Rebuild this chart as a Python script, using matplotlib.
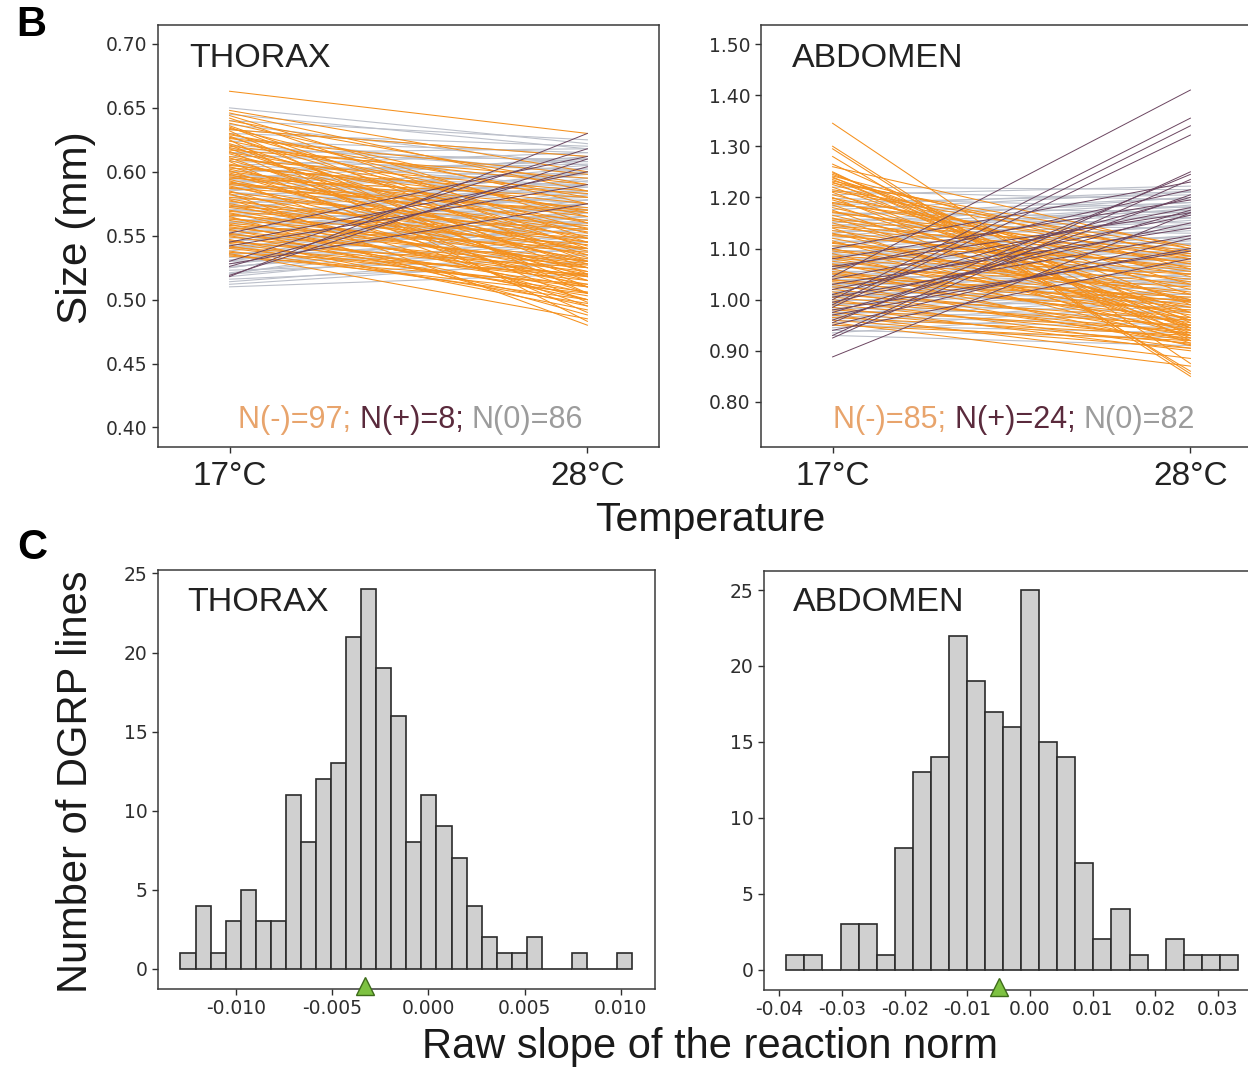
import numpy as np
import matplotlib
matplotlib.use("Agg")
import matplotlib.pyplot as plt

# ---- data -----------------------------------------------------------------
temps = ["17°C", "28°C"]

# thorax reaction norms (size in mm at 17°C and 28°C)
thorax_neg_17 = [0.663, 0.648, 0.646, 0.644, 0.642, 0.640, 0.638, 0.636, 0.635, 0.634,
                 0.632, 0.630, 0.629, 0.628, 0.627, 0.625, 0.624, 0.622, 0.621, 0.620,
                 0.619, 0.618, 0.616, 0.615, 0.614, 0.612, 0.611, 0.610, 0.609, 0.608,
                 0.606, 0.605, 0.604, 0.602, 0.601, 0.600, 0.599, 0.598, 0.596, 0.595,
                 0.594, 0.593, 0.592, 0.590, 0.589, 0.588, 0.587, 0.585, 0.584, 0.583,
                 0.582, 0.580, 0.579, 0.578, 0.577, 0.575, 0.574, 0.573, 0.572, 0.570,
                 0.569, 0.568, 0.567, 0.566, 0.565, 0.564, 0.563, 0.562, 0.560, 0.559,
                 0.558, 0.557, 0.556, 0.555, 0.554, 0.552, 0.551, 0.550, 0.549, 0.547,
                 0.546, 0.545, 0.544, 0.542, 0.541, 0.540, 0.538, 0.537, 0.536, 0.535,
                 0.534, 0.633, 0.626, 0.617, 0.603, 0.597, 0.591]
thorax_neg_28 = [0.630, 0.600, 0.585, 0.560, 0.548, 0.590, 0.575, 0.540, 0.530, 0.565,
                 0.505, 0.555, 0.580, 0.520, 0.545, 0.483, 0.568, 0.535, 0.510, 0.590,
                 0.552, 0.525, 0.498, 0.570, 0.542, 0.560, 0.515, 0.585, 0.533, 0.490,
                 0.556, 0.575, 0.528, 0.548, 0.505, 0.565, 0.538, 0.518, 0.553, 0.580,
                 0.530, 0.495, 0.545, 0.562, 0.522, 0.540, 0.570, 0.510, 0.550, 0.480,
                 0.535, 0.558, 0.525, 0.500, 0.545, 0.532, 0.515, 0.555, 0.540, 0.520,
                 0.548, 0.505, 0.530, 0.543, 0.488, 0.525, 0.537, 0.512, 0.528, 0.500,
                 0.540, 0.518, 0.530, 0.495, 0.522, 0.510, 0.527, 0.503, 0.519, 0.492,
                 0.515, 0.525, 0.506, 0.497, 0.518, 0.510, 0.500, 0.520, 0.485, 0.505,
                 0.512, 0.612, 0.598, 0.595, 0.583, 0.572, 0.568]
thorax_pos_17 = [0.518, 0.519, 0.526, 0.530, 0.545, 0.542, 0.528, 0.552]
thorax_pos_28 = [0.630, 0.610, 0.604, 0.618, 0.600, 0.590, 0.575, 0.612]
thorax_zero_17 = [0.650, 0.645, 0.640, 0.637, 0.633, 0.630, 0.627, 0.624, 0.621, 0.618,
                  0.615, 0.612, 0.610, 0.608, 0.605, 0.603, 0.600, 0.598, 0.596, 0.594,
                  0.592, 0.590, 0.588, 0.586, 0.584, 0.582, 0.580, 0.578, 0.576, 0.574,
                  0.572, 0.570, 0.569, 0.567, 0.565, 0.563, 0.561, 0.560, 0.558, 0.556,
                  0.555, 0.553, 0.551, 0.550, 0.548, 0.546, 0.545, 0.543, 0.541, 0.540,
                  0.538, 0.536, 0.535, 0.533, 0.531, 0.530, 0.528, 0.526, 0.525, 0.523,
                  0.521, 0.520, 0.518, 0.516, 0.514, 0.512, 0.510,
                  0.585, 0.575, 0.565, 0.555, 0.545, 0.535, 0.525,
                  0.595, 0.605, 0.615, 0.560, 0.550, 0.540, 0.530, 0.520,
                  0.570, 0.580, 0.590, 0.600]
thorax_zero_28 = [0.622, 0.618, 0.625, 0.605, 0.612, 0.620, 0.598, 0.615, 0.600, 0.608,
                  0.592, 0.610, 0.588, 0.602, 0.595, 0.580, 0.606, 0.585, 0.590, 0.575,
                  0.598, 0.572, 0.583, 0.600, 0.568, 0.590, 0.562, 0.585, 0.578, 0.560,
                  0.593, 0.555, 0.580, 0.570, 0.588, 0.552, 0.575, 0.565, 0.582, 0.548,
                  0.572, 0.560, 0.578, 0.545, 0.568, 0.558, 0.575, 0.540, 0.565, 0.555,
                  0.570, 0.538, 0.560, 0.550, 0.565, 0.535, 0.555, 0.545, 0.560, 0.532,
                  0.550, 0.540, 0.545, 0.528, 0.535, 0.530, 0.520,
                  0.605, 0.598, 0.590, 0.582, 0.575, 0.568, 0.560,
                  0.610, 0.615, 0.618, 0.595, 0.585, 0.578, 0.570, 0.563,
                  0.600, 0.603, 0.612, 0.608]

# abdomen reaction norms
abdomen_neg_17 = [1.345, 1.300, 1.295, 1.280, 1.265, 1.250, 1.248, 1.245, 1.242, 1.240,
                  1.238, 1.235, 1.232, 1.230, 1.225, 1.220, 1.215, 1.210, 1.205, 1.200,
                  1.195, 1.190, 1.185, 1.180, 1.175, 1.170, 1.165, 1.160, 1.155, 1.150,
                  1.145, 1.140, 1.135, 1.130, 1.125, 1.120, 1.115, 1.110, 1.105, 1.100,
                  1.095, 1.090, 1.085, 1.080, 1.075, 1.070, 1.065, 1.060, 1.055, 1.050,
                  1.045, 1.040, 1.035, 1.030, 1.025, 1.020, 1.015, 1.010, 1.005, 1.000,
                  0.995, 0.990, 0.985, 0.980, 0.975, 0.970, 0.965, 0.960, 0.955, 0.950,
                  1.260, 1.228, 1.212, 1.198, 1.188, 1.172, 1.158, 1.142, 1.128, 1.112,
                  1.098, 1.082, 1.068, 1.052, 1.038]
abdomen_neg_28 = [0.875, 0.855, 0.850, 0.860, 0.955, 0.920, 0.945, 0.990, 1.060, 0.930,
                  1.010, 0.965, 1.085, 0.940, 1.030, 0.975, 1.100, 0.950, 1.045, 0.925,
                  0.995, 1.070, 0.960, 1.020, 0.935, 1.090, 1.000, 0.945, 1.055, 0.975,
                  1.080, 0.915, 1.035, 0.960, 1.065, 0.985, 0.930, 1.040, 1.075, 0.950,
                  1.010, 0.920, 1.050, 0.970, 0.995, 0.940, 1.025, 0.910, 0.985, 0.955,
                  1.005, 0.930, 0.965, 0.912, 0.980, 0.945, 0.920, 0.960, 0.935, 0.905,
                  0.950, 0.925, 0.900, 0.940, 0.915, 0.885, 0.930, 0.905, 0.870, 0.920,
                  1.100, 1.105, 1.090, 1.080, 1.095, 1.070, 1.085, 1.060, 1.050, 1.000,
                  1.030, 1.015, 0.990, 0.975, 0.998]
abdomen_pos_17 = [1.045, 1.000, 0.990, 0.985, 0.930, 0.955, 0.888, 0.925, 0.960, 0.975,
                  1.010, 1.020, 1.040, 0.950, 0.995, 1.060, 1.080, 0.970, 1.030, 1.100,
                  0.940, 1.005, 1.065, 0.980]
abdomen_pos_28 = [1.410, 1.355, 1.340, 1.322, 1.250, 1.245, 1.170, 1.235, 1.205, 1.175,
                  1.200, 1.165, 1.180, 1.120, 1.150, 1.215, 1.195, 1.100, 1.140, 1.230,
                  1.080, 1.125, 1.170, 1.095]
abdomen_zero_17 = [1.220, 1.212, 1.205, 1.198, 1.190, 1.183, 1.176, 1.170, 1.164, 1.158,
                   1.152, 1.146, 1.140, 1.135, 1.130, 1.125, 1.120, 1.115, 1.110, 1.105,
                   1.100, 1.096, 1.092, 1.088, 1.084, 1.080, 1.076, 1.072, 1.068, 1.064,
                   1.060, 1.056, 1.052, 1.048, 1.044, 1.040, 1.036, 1.032, 1.028, 1.024,
                   1.020, 1.016, 1.012, 1.008, 1.004, 1.000, 0.996, 0.992, 0.988, 0.984,
                   0.980, 0.976, 0.972, 0.968, 0.964, 0.960, 0.955, 0.950, 0.945, 0.940,
                   0.935, 0.930, 1.150, 1.130, 1.110, 1.090, 1.070, 1.050, 1.030, 1.010,
                   0.990, 0.970, 1.185, 1.165, 1.145, 1.125, 1.105, 1.085, 1.065, 1.045,
                   1.025, 1.005]
abdomen_zero_28 = [1.215, 1.195, 1.222, 1.180, 1.205, 1.170, 1.210, 1.160, 1.190, 1.150,
                   1.200, 1.140, 1.175, 1.130, 1.185, 1.120, 1.165, 1.110, 1.155, 1.100,
                   1.145, 1.090, 1.135, 1.080, 1.125, 1.070, 1.118, 1.060, 1.108, 1.055,
                   1.098, 1.045, 1.090, 1.035, 1.080, 1.030, 1.072, 1.020, 1.065, 1.010,
                   1.058, 1.000, 1.050, 0.995, 1.042, 0.985, 1.035, 0.975, 1.028, 0.965,
                   1.020, 0.960, 1.012, 0.950, 1.005, 0.945, 0.998, 0.935, 0.990, 0.925,
                   0.980, 0.910, 1.190, 1.178, 1.168, 1.148, 1.125, 1.110, 1.085, 1.060,
                   1.040, 1.020, 1.212, 1.200, 1.182, 1.172, 1.160, 1.140, 1.115, 1.095,
                   1.070, 1.050]

# histograms of raw slopes (counts per bin)
thorax_counts = [1, 4, 1, 3, 5, 3, 3, 11, 8, 12, 13, 21, 24, 19, 16,
                 8, 11, 9, 7, 4, 2, 1, 1, 2, 0, 0, 1, 0, 0, 1]
thorax_range = (-0.0129, 0.0106)
thorax_mean = -0.0033
abdomen_counts = [1, 1, 0, 3, 3, 1, 8, 13, 14, 22, 19, 17, 16, 25, 15,
                  14, 7, 2, 4, 1, 0, 2, 1, 1, 1]
abdomen_range = (-0.0389, 0.0332)
abdomen_mean = -0.0050

# ---- style ----------------------------------------------------------------
C_NEG = "#F5901C"
C_POS = "#6B4560"
C_ZERO = "#BCC0CA"
TXT_NEG = "#E8A46C"
TXT_POS = "#5A2A3C"
TXT_ZERO = "#9C9C9C"
TICK_C = "#2e2e2e"
BIG = "Liberation Sans"

fig = plt.figure(figsize=(12.48, 10.68), dpi=100)


def style_axes(ax):
    for s in ax.spines.values():
        s.set_color("#3a3a3a")
        s.set_linewidth(1.1)
    ax.tick_params(direction="out", length=4, width=1, color=TICK_C,
                   labelsize=13.5, labelcolor=TICK_C)


def rainbow_text(ax, x, y, pieces, size):
    t = ax.text(x, y, pieces[0][0], color=pieces[0][1], fontsize=size,
                family=BIG, transform=ax.transAxes, va="center", ha="left")
    for txt, col in pieces[1:]:
        t = ax.annotate(txt, xycoords=t, xy=(1, 0), va="bottom", ha="left",
                        color=col, fontsize=size, family=BIG)


def norm_panel(rect, neg, pos, zero, ylim, yticks, title, counts_txt, txt_x):
    ax = fig.add_axes(rect)
    for y0, y1 in zip(*zero):
        ax.plot([1, 2], [y0, y1], color=C_ZERO, lw=0.8)
    for y0, y1 in zip(*neg):
        ax.plot([1, 2], [y0, y1], color=C_NEG, lw=0.75)
    for y0, y1 in zip(*pos):
        ax.plot([1, 2], [y0, y1], color=C_POS, lw=0.7)
    ax.set_xlim(0.80, 2.20)
    ax.set_ylim(*ylim)
    ax.set_xticks([1, 2])
    ax.set_xticklabels(temps)
    ax.set_yticks(yticks)
    ax.set_yticklabels(["%.2f" % v for v in yticks])
    style_axes(ax)
    ax.tick_params(axis="x", labelsize=24, pad=6)
    for lab in ax.get_xticklabels():
        lab.set_family(BIG)
        lab.set_color("#222222")
    ax.text(0.062, 0.921, title, transform=ax.transAxes, fontsize=24.5,
            family=BIG, color="#222222", va="center")
    rainbow_text(ax, txt_x, 0.063, counts_txt, 22)
    return ax


def hist_panel(rect, counts, rng, mean, xlim, ylim, xticks, fmt, title):
    ax = fig.add_axes(rect)
    edges = np.linspace(rng[0], rng[1], len(counts) + 1)
    ax.bar(edges[:-1], counts, width=np.diff(edges), align="edge",
           color="#D0D0D0", edgecolor="#2b2b2b", linewidth=1.2)
    ax.plot([mean], [ylim[0] + 0.15], marker="^", markersize=13,
            color="#7DC241", markeredgecolor="#3d6b1a", markeredgewidth=1,
            clip_on=False, zorder=5)
    ax.set_xlim(*xlim)
    ax.set_ylim(*ylim)
    ax.set_xticks(xticks)
    ax.set_xticklabels([fmt % v for v in xticks])
    ax.set_yticks([0, 5, 10, 15, 20, 25])
    style_axes(ax)
    ax.text(0.058, 0.924, title, transform=ax.transAxes, fontsize=24.5,
            family=BIG, color="#222222", va="center")
    return ax


norm_panel([0.1266, 0.5818, 0.4014, 0.395],
           (thorax_neg_17, thorax_neg_28), (thorax_pos_17, thorax_pos_28),
           (thorax_zero_17, thorax_zero_28),
           (0.385, 0.715), [0.40, 0.45, 0.50, 0.55, 0.60, 0.65, 0.70], "THORAX",
           [("N(-)=97; ", TXT_NEG), ("N(+)=8; ", TXT_POS), ("N(0)=86", TXT_ZERO)], 0.16)
norm_panel([0.6098, 0.5818, 0.4014, 0.395],
           (abdomen_neg_17, abdomen_neg_28), (abdomen_pos_17, abdomen_pos_28),
           (abdomen_zero_17, abdomen_zero_28),
           (0.7125, 1.5376), [0.80, 0.90, 1.00, 1.10, 1.20, 1.30, 1.40, 1.50], "ABDOMEN",
           [("N(-)=85; ", TXT_NEG), ("N(+)=24; ", TXT_POS), ("N(0)=82", TXT_ZERO)], 0.144)

hist_panel([0.1266, 0.0744, 0.398, 0.3916], thorax_counts, thorax_range, thorax_mean,
           (-0.01407, 0.01177), (-1.25, 25.2),
           [-0.010, -0.005, 0.000, 0.005, 0.010], "%.3f", "THORAX")
hist_panel([0.612, 0.0735, 0.398, 0.3918], abdomen_counts, abdomen_range, abdomen_mean,
           (-0.0425, 0.0368), (-1.3, 26.25),
           [-0.04, -0.03, -0.02, -0.01, 0.00, 0.01, 0.02, 0.03], "%.2f", "ABDOMEN")

# labels
fig.text(0.025, 0.977, "B", fontsize=30, fontweight="bold", family=BIG, va="center", ha="center")
fig.text(0.026, 0.487, "C", fontsize=30, fontweight="bold", family=BIG, va="center", ha="center")
fig.text(0.061, 0.7865, "Size (mm)", rotation=90, fontsize=30.5, family=BIG,
         va="center", ha="center", color="#1a1a1a")
fig.text(0.569, 0.513, "Temperature", fontsize=29.5, family=BIG,
         va="center", ha="center", color="#1a1a1a")
fig.text(0.061, 0.268, "Number of DGRP lines", rotation=90, fontsize=30, family=BIG,
         va="center", ha="center", color="#1a1a1a")
fig.text(0.569, 0.0197, "Raw slope of the reaction norm", fontsize=30, family=BIG,
         va="center", ha="center", color="#1a1a1a")

fig.savefig("out.png", dpi=100)
